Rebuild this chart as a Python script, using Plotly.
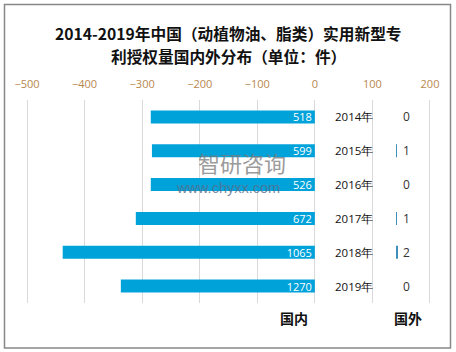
import plotly.graph_objects as go

years = ["2014年", "2015年", "2016年", "2017年", "2018年", "2019年"]
domestic_bar = [-285, -283, -285, -311, -438, -337]
domestic_labels = ["518", "599", "526", "672", "1065", "1270"]
foreign = [0, 1, 0, 1, 2, 0]
tick_vals = [-500, -400, -300, -200, -100, 0, 100, 200]

W, H = 456, 352
TOP, BOT = 100, 303

def py(p):
    return (BOT - p) / (BOT - TOP)

def px(p):
    return p / W

fig = go.Figure()
fig.add_trace(go.Bar(
    y=years, x=domestic_bar, orientation="h",
    marker=dict(color="#00a2da", line=dict(width=0)),
    text=domestic_labels, textposition="inside", insidetextanchor="start",
    constraintext="none",
    textfont=dict(color="white", size=11, family="Open Sans"),
    xaxis="x", yaxis="y", showlegend=False, hoverinfo="skip",
))
fig.add_trace(go.Bar(
    y=years, x=foreign, orientation="h",
    marker=dict(color="#3f8fb8", line=dict(width=0)),
    xaxis="x2", yaxis="y", showlegend=False, hoverinfo="skip",
))

scale = 0.5757
x0 = -500 - 27 / scale
x1 = -500 + (W - 27) / scale

def ann(x, y, text, size, color, family="Open Sans", yref="paper", opacity=1):
    return dict(x=x, xref="paper", y=y, yref=yref, text=text, showarrow=False,
                xanchor="center", yanchor="middle", opacity=opacity,
                font=dict(size=size, color=color, family=family))

annotations = []
for yr, fv in zip(years, foreign):
    annotations.append(ann(px(354), yr, yr, 11.5, "#111", yref="y"))
    annotations.append(ann(px(406), yr, str(fv), 12, "#333", yref="y"))

annotations += [
    ann(0.5, py(33), "<b>2014-2019年中国（动植物油、脂类）实用新型专</b>", 15.7, "#111", "Noto Sans CJK SC"),
    ann(0.5, py(56), "<b>利授权量国内外分布（单位：件）</b>", 15.7, "#111", "Noto Sans CJK SC"),
    ann(px(294), py(318), "<b>国内</b>", 14, "#111", "Noto Sans CJK SC"),
    ann(px(408), py(318), "<b>国外</b>", 14, "#111", "Noto Sans CJK SC"),
    ann(px(242), py(162), "智研咨询", 22, "#7a7a7a", "Noto Sans CJK SC", opacity=0.75),
    ann(px(228), py(187.5), "www.chyxx.com", 14.5, "#5a6f8c", "Liberation Sans", opacity=0.8),
]

fig.update_layout(
    width=W, height=H,
    margin=dict(l=0, r=0, t=TOP, b=H - BOT),
    paper_bgcolor="white", plot_bgcolor="white",
    bargap=0.615, barmode="overlay",
    xaxis=dict(range=[x0, x1], side="top", tickvals=tick_vals, ticks="",
               showgrid=True, gridcolor="#d9d9d9", gridwidth=1,
               zeroline=False, showline=False, ticklabelstandoff=9,
               tickfont=dict(size=11, color="#b8874e", family="Open Sans")),
    xaxis2=dict(range=[-396, 60], overlaying="x", visible=False, showgrid=False, zeroline=False),
    yaxis=dict(autorange="reversed", showticklabels=False, showgrid=False, zeroline=False,
               showline=False, ticks=""),
    annotations=annotations,
    shapes=[dict(type="rect", xref="paper", yref="paper",
                 x0=px(4.5), x1=px(450.5), y0=py(348), y1=py(4.5),
                 line=dict(color="#888", width=1.5))],
)

fig.write_html("out.html")
